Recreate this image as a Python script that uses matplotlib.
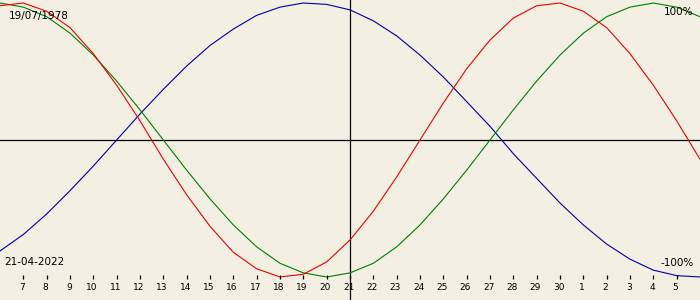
from matplotlib import pyplot as plt

plt.rcParams['font.family'] = ['DejaVu Sans']

birth_date = '19/07/1978'
target_date = '21-04-2022'

# day of April (values past 30 roll into May)
days = [6, 7, 8, 9, 10, 11, 12, 13, 14, 15, 16, 17, 18, 19, 20, 21,
        22, 23, 24, 25, 26, 27, 28, 29, 30, 31, 32, 33, 34, 35, 36]

# percent values read per day
physical = [98, 100, 94, 82, 63, 40, 14, -14, -40, -63, -82, -94, -100, -98, -89, -73,
            -52, -27, 0, 27, 52, 73, 89, 98, 100, 94, 82, 63, 40, 14, -14]
emotional = [100, 97, 90, 78, 62, 43, 22, 0, -22, -43, -62, -78, -90, -97, -100, -97,
             -90, -78, -62, -43, -22, 0, 22, 43, 62, 78, 90, 97, 100, 97, 90]
intellectual = [-81, -69, -54, -37, -19, 0, 19, 37, 54, 69, 81, 91, 97, 100, 99, 95,
                87, 76, 62, 46, 28, 10, -10, -28, -46, -62, -76, -87, -95, -99, -100]

tick_days = list(range(7, 36))
tick_labels = [str(d) if d <= 30 else str(d - 30) for d in tick_days]

bg = '#F3EFE3'
fig = plt.figure(figsize=(7, 3), dpi=100, facecolor=bg)
ax = fig.add_axes([0, 0, 1, 1])
ax.set_facecolor(bg)
ax.set_xlim(6, 36)
ax.set_ylim(-116.8, 102.2)
ax.axis('off')

# axes cross
ax.axhline(0, color='black', lw=0.9)
ax.axvline(21, color='black', lw=0.9)

ax.plot(days, intellectual, color='#0000A0', lw=0.8)
ax.plot(days, emotional, color='#008000', lw=0.8)
ax.plot(days, physical, color='#F00000', lw=0.8)

# day ticks along the bottom
ax.vlines(tick_days, -101.5, -98.5, color='black', lw=0.9)
for d, lab in zip(tick_days, tick_labels):
    ax.text(d - 0.05, -108, lab, ha='center', va='center', fontsize=6.5)

fig.text(9 / 700, 1 - 16.5 / 300, birth_date, ha='left', va='center', fontsize=7.5)
fig.text(4 / 700, 1 - 262 / 300, target_date, ha='left', va='center', fontsize=7.5)
fig.text(693 / 700, 1 - 12 / 300, '100%', ha='right', va='center', fontsize=7.5)
fig.text(694 / 700, 1 - 262.5 / 300, '-100%', ha='right', va='center', fontsize=7.5)

plt.savefig('out.png', dpi=100, facecolor=bg)
